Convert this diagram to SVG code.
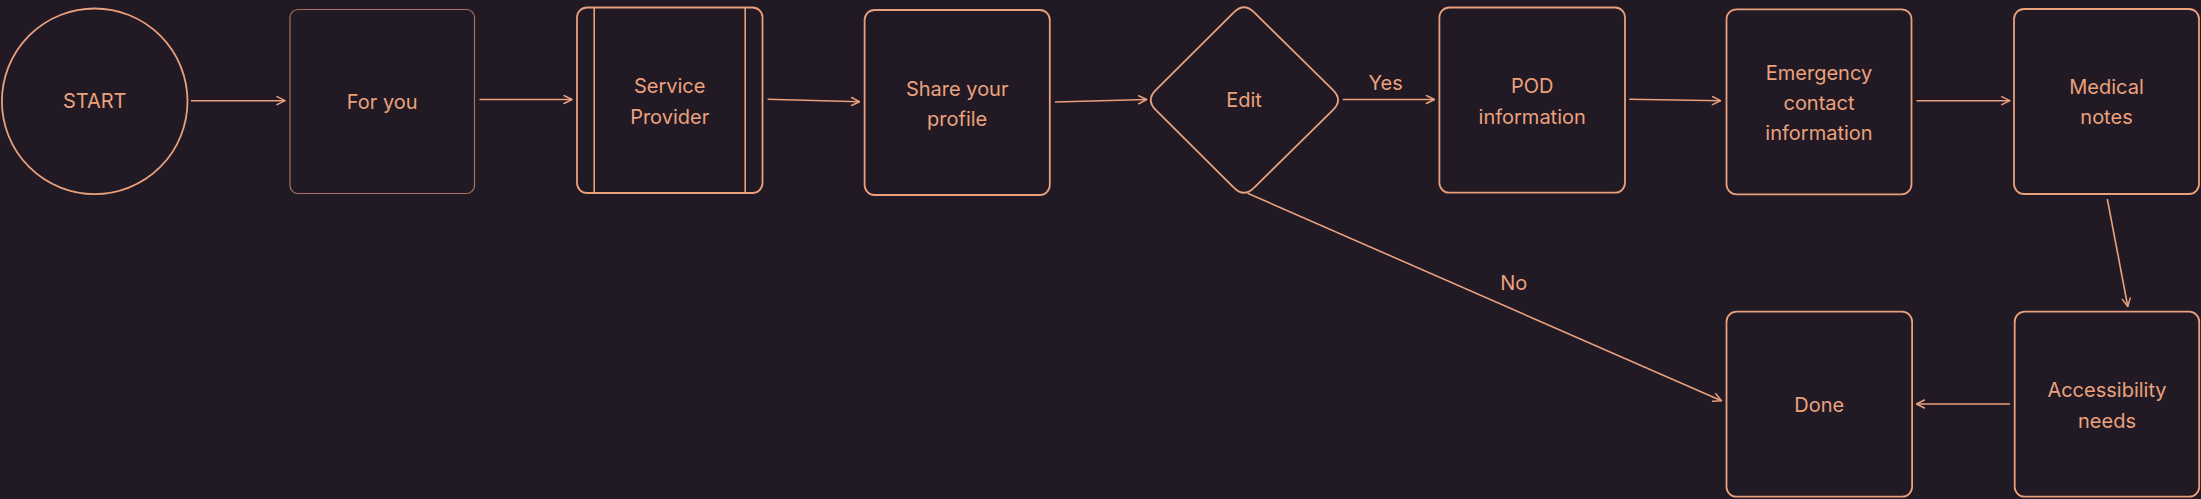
<svg xmlns="http://www.w3.org/2000/svg" width="2201" height="499" viewBox="0 0 2201 499">
<style>
.bg{fill:#211924}
.n{fill:#211924;stroke:#E9A07B;stroke-width:1.8}
.thin{stroke:#A8705E;stroke-width:1.2}
.c{fill:none;stroke:#E9A07B;stroke-width:1.6}
text{font-family:Inter,"Noto Sans","Liberation Sans",sans-serif;font-size:20px;fill:#EBA27D;text-anchor:middle;dominant-baseline:central}
</style>
<defs>
<marker id="ah" viewBox="0 0 10 10" refX="9" refY="5" markerWidth="10" markerHeight="10" markerUnits="userSpaceOnUse" orient="auto">
<path d="M1,1 L9,5 L1,9" fill="none" stroke="#E9A07B" stroke-width="1.5" stroke-linecap="round" stroke-linejoin="round"/>
</marker>
</defs>
<rect class="bg" x="0" y="0" width="2201" height="499"/>
<g id="connectors">
<line class="c" x1="191" y1="100.7" x2="285" y2="100.7" marker-end="url(#ah)"/>
<line class="c" x1="479.5" y1="99.5" x2="572" y2="99.5" marker-end="url(#ah)"/>
<line class="c" x1="767.6" y1="99.3" x2="859.5" y2="101.7" marker-end="url(#ah)"/>
<line class="c" x1="1055" y1="102" x2="1146.7" y2="99.5" marker-end="url(#ah)"/>
<line class="c" x1="1342.7" y1="99.5" x2="1434.4" y2="99.5" marker-end="url(#ah)"/>
<line class="c" x1="1629.3" y1="99.3" x2="1720.5" y2="100.7" marker-end="url(#ah)"/>
<line class="c" x1="1916.5" y1="100.7" x2="2009.8" y2="100.7" marker-end="url(#ah)"/>
<line class="c" x1="2107.3" y1="199" x2="2127.8" y2="306.5" marker-end="url(#ah)"/>
<line class="c" x1="2010" y1="404" x2="1916.5" y2="404" marker-end="url(#ah)"/>
<line class="c" x1="1247.6" y1="193.3" x2="1721.5" y2="400.7" marker-end="url(#ah)"/>
<text x="1385.6" y="82.7">Yes</text>
<text x="1513.8" y="282.5">No</text>
</g>
<g id="start">
<circle class="n" cx="94.7" cy="101.3" r="92.8"/>
<text x="94.7" y="101.3">START</text>
</g>
<g id="for-you">
<rect class="n thin" x="290" y="9.5" width="184.5" height="184" rx="8"/>
<text x="382.2" y="101.5">For you</text>
</g>
<g id="service-provider">
<rect class="n" x="577" y="7.5" width="185.5" height="185.5" rx="10"/>
<line class="c" x1="594.2" y1="7.5" x2="594.2" y2="194"/>
<line class="c" x1="745.2" y1="7.5" x2="745.2" y2="194"/>
<text x="669.7" y="86">Service</text>
<text x="669.7" y="116.5">Provider</text>
</g>
<g id="share-profile">
<rect class="n" x="864.6" y="10" width="185.2" height="185" rx="10"/>
<text x="957.2" y="88.5">Share your</text>
<text x="957.2" y="119">profile</text>
</g>
<g id="edit">
<path class="n" d="M1234.1,12.2 Q1244,2.3 1253.9,12.2 L1333.1,90.1 Q1343,100 1333.1,109.9 L1253.9,187.8 Q1244,197.7 1234.1,187.8 L1155.7,109.9 Q1145.8,100 1155.7,90.1 Z"/>
<text x="1244" y="100">Edit</text>
</g>
<g id="pod">
<rect class="n" x="1439.4" y="7.5" width="185.6" height="185.2" rx="10"/>
<text x="1532.2" y="86">POD</text>
<text x="1532.2" y="116.5">information</text>
</g>
<g id="emergency">
<rect class="n" x="1726.5" y="9.3" width="185" height="185" rx="10"/>
<text x="1819" y="72.7">Emergency</text>
<text x="1819" y="102.7">contact</text>
<text x="1819" y="132.7">information</text>
</g>
<g id="medical">
<rect class="n" x="2014" y="9" width="185" height="185" rx="10"/>
<text x="2106.5" y="87.3">Medical</text>
<text x="2106.5" y="117.3">notes</text>
</g>
<g id="done">
<rect class="n" x="1726.5" y="311.7" width="185.6" height="185" rx="10"/>
<text x="1819.3" y="405">Done</text>
</g>
<g id="accessibility">
<rect class="n" x="2014.7" y="311.7" width="184.5" height="185" rx="10"/>
<text x="2107" y="390">Accessibility</text>
<text x="2107" y="420.7">needs</text>
</g>
</svg>
